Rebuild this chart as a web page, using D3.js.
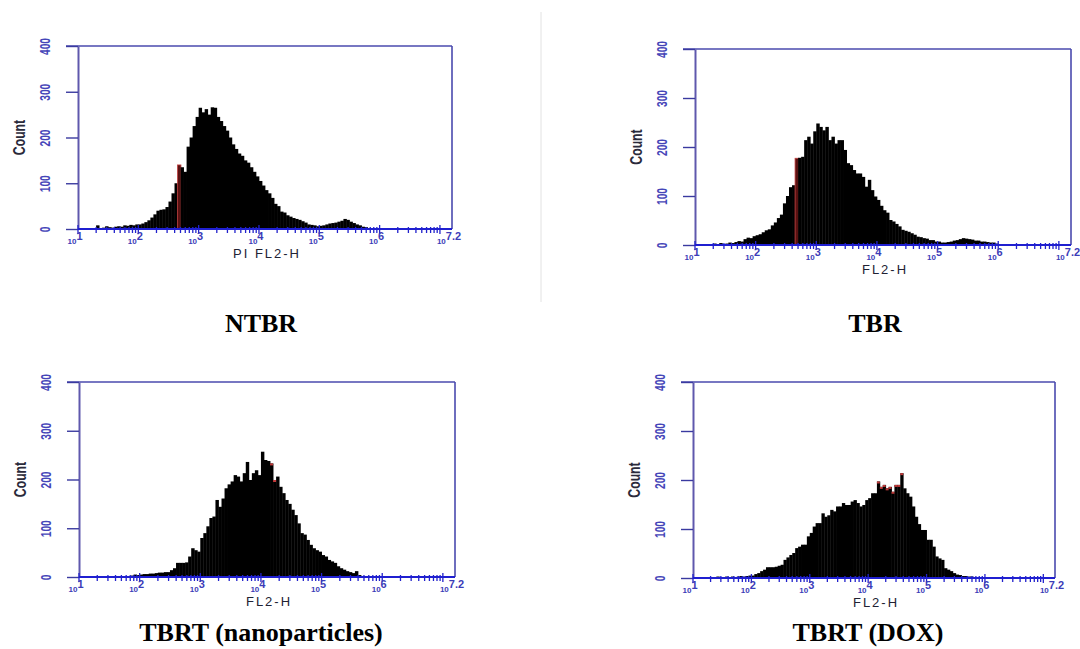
<!DOCTYPE html>
<html>
<head>
<meta charset="utf-8">
<script src="https://cdn.jsdelivr.net/npm/d3@7"></script>
<style>
body{margin:0;background:#fff}
svg{display:block}
</style>
</head>
<body>
<div id="chart"></div>
<script>
var binWidth = 0.05
var yTicks = [0, 100, 200, 300, 400]
var xTickExps = [1, 2, 3, 4, 5, 6, 7.2]
var xTickSups = ["1", "2", "3", "4", "5", "6", "7.2"]

var ntbrStart = 1.25
var ntbrCounts = [0,8,0,3,6,4,3,5,6,5,8,7,9,8,10,
    10,12,15,19,25,32,40,42,43,48,60,78,100,140,135,125,180,200,225,245,
    265,255,262,250,266,265,245,236,225,215,200,185,175,165,160,150,145,135,125,115,
    105,95,85,78,68,55,50,38,36,30,27,24,22,20,17,14,10,9,8,6,
    7,8,10,12,13,14,16,18,22,20,16,13,10,8,5,4,2,1]
var ntbrRed = [2.65]

var tbrStart = 1.3
var tbrCounts = [3,0,4,2,3,5,4,6,8,7,12,15,14,18,
    20,22,26,30,32,40,46,55,62,85,100,118,122,177,178,180,214,221,207,232,
    248,241,234,241,214,221,207,214,214,194,167,163,153,146,146,139,119,133,112,99,
    92,80,71,66,51,48,43,38,31,29,27,24,21,17,16,14,13,10,10,7,
    7,5,5,6,7,9,10,12,14,13,12,11,9,9,7,7,6,5,5,3,2]
var tbrRed = [2.65]

var nanoStart = 1.85
var nanoCounts = [3,5,4,
    5,6,6,7,7,8,9,9,10,10,14,18,29,29,29,30,42,59,55,52,
    80,90,104,121,124,158,144,161,182,190,196,209,206,196,213,236,199,213,219,209,
    257,240,238,233,199,206,185,172,158,150,138,127,110,90,87,76,66,59,55,52,
    45,42,35,32,29,22,18,15,12,10,8,12,4,2]
var nanoRed = [4.15, 4.2]

var doxStart = 1.3
var doxCounts = [2,0,3,0,2,3,0,3,2,3,4,3,4,5,
    5,8,10,14,17,22,22,22,23,25,27,37,42,47,51,61,64,68,68,85,
    92,105,112,112,132,125,128,139,136,146,146,153,149,149,156,159,153,146,149,159,
    163,173,173,197,186,190,183,186,176,190,190,214,183,173,166,146,125,110,98,98,
    78,78,64,44,40,37,20,17,14,10,7,6,4,4,3,3,2,2,1]
var doxRed = [4.15, 4.2, 4.25, 4.3, 4.35, 4.4, 4.45, 4.5, 4.55]

var panels = [
    {title: "NTBR", axisTitle: "PI FL2-H", start: ntbrStart, counts: ntbrCounts, red: ntbrRed, redFill: true,
     left: 78, right: 452, top: 46, bottom: 229, titleX: 261, titleY: 332},
    {title: "TBR", axisTitle: "FL2-H", start: tbrStart, counts: tbrCounts, red: tbrRed, redFill: true,
     left: 695, right: 1071, top: 49, bottom: 245, titleX: 875, titleY: 332},
    {title: "TBRT (nanoparticles)", axisTitle: "FL2-H", start: nanoStart, counts: nanoCounts, red: nanoRed, redFill: false,
     left: 79, right: 455, top: 382, bottom: 577, titleX: 261, titleY: 641},
    {title: "TBRT (DOX)", axisTitle: "FL2-H", start: doxStart, counts: doxCounts, red: doxRed, redFill: false,
     left: 693, right: 1055, top: 382, bottom: 578, titleX: 868, titleY: 641}
]

var width = 1080, height = 649
var svg = d3.select("#chart").append("svg").attr("width", width).attr("height", height)

// thin divider between the top two panels
svg.append("line")
    .attr("x1", 541).attr("x2", 541).attr("y1", 12).attr("y2", 302)
    .style("stroke", "#e2e2e2").style("stroke-width", 1)

for (var i in panels) {
    drawPanel(panels[i])
}

function drawPanel(p) {
    var g = svg.append("g")
    var x = d3.scaleLog().domain([10, Math.pow(10, 7.2)]).range([p.left, p.right])
    var y = d3.scaleLinear().domain([0, 400]).range([p.bottom, p.top])

    var bins = p.counts.map(function(c, i) {
        var e = +(p.start + i * binWidth).toFixed(2)
        return {e: e, c: c}
    })
    function isRed(e) {
        return p.red.some(function(r) { return Math.abs(r - e) < 0.001 })
    }

    // frame
    g.append("line").attr("x1", p.left - 12).attr("x2", p.right).attr("y1", p.top).attr("y2", p.top)
        .style("stroke", "#4a4aae").style("stroke-width", 1.6)
    g.append("line").attr("x1", p.right).attr("x2", p.right).attr("y1", p.top).attr("y2", p.bottom)
        .style("stroke", "#4a4aae").style("stroke-width", 1.6)

    // histogram
    g.selectAll(".bar")
        .data(bins)
        .enter()
        .append("rect")
        .attr("x", function(d) { return x(Math.pow(10, d.e)) })
        .attr("width", function(d) { return x(Math.pow(10, d.e + binWidth)) - x(Math.pow(10, d.e)) + 0.4 })
        .attr("y", function(d) { return y(d.c) })
        .attr("height", function(d) { return y(0) - y(d.c) })
        .style("fill", function(d) {
            if (p.redFill && isRed(d.e)) return "#5a1212"
            return "#000"
        })
        .style("stroke", function(d) {
            if (p.redFill && isRed(d.e)) return "#c04040"
            return "none"
        })
        .style("stroke-width", 0.8)

    if (!p.redFill) {
        var redBins = bins.filter(function(d) { return isRed(d.e) })
        g.selectAll(".redtop")
            .data(redBins)
            .enter()
            .append("line")
            .attr("x1", function(d) { return x(Math.pow(10, d.e)) })
            .attr("x2", function(d) { return x(Math.pow(10, d.e + binWidth)) })
            .attr("y1", function(d) { return y(d.c) + 1 })
            .attr("y2", function(d) { return y(d.c) + 1 })
            .style("stroke", "#c03a3a").style("stroke-width", 2)
    }

    // y axis
    var yAxis = g.append("g")
        .attr("transform", "translate(" + p.left + ",0)")
        .call(d3.axisLeft(y).tickValues(yTicks).tickSize(12).tickSizeOuter(0))
    yAxis.select(".domain").style("stroke", "#5f58ad").style("stroke-width", 2)
    yAxis.selectAll(".tick line").style("stroke", "#3a3aa0").style("stroke-width", 1.4)
    yAxis.selectAll(".tick text")
        .attr("x", null).attr("dy", null)
        .attr("transform", "translate(-28,0) rotate(-90) scale(0.68,1)")
        .attr("text-anchor", "middle")
        .style("font-family", "'Liberation Sans', Arial, sans-serif")
        .style("font-weight", "bold")
        .style("font-size", "15px")
        .style("fill", "#4545b8")

    // x axis, log ticks pointing down
    var ticks = x.ticks().filter(function(t) { return t >= 10 && t <= Math.pow(10, 7.2) })
    g.selectAll(".xtick")
        .data(ticks)
        .enter()
        .append("line")
        .attr("x1", function(d) { return x(d) })
        .attr("x2", function(d) { return x(d) })
        .attr("y1", function(d) { return Number.isInteger(Math.log10(d)) ? p.bottom - 4 : p.bottom - 2 })
        .attr("y2", function(d) { return Number.isInteger(Math.log10(d)) ? p.bottom + 5 : p.bottom + 4 })
        .style("stroke", "#2222cc")
        .style("stroke-width", 1.3)
    g.append("line").attr("x1", p.left).attr("x2", p.right).attr("y1", p.bottom).attr("y2", p.bottom)
        .style("stroke", "#1f1fd0").style("stroke-width", 2)

    var labels = g.selectAll(".xlab")
        .data(xTickExps)
        .enter()
        .append("text")
        .attr("x", function(d) { return x(Math.pow(10, d)) - 3 })
        .attr("y", p.bottom + 15)
        .attr("text-anchor", "middle")
        .style("font-family", "'Liberation Sans', Arial, sans-serif")
        .style("font-weight", "bold")
        .style("fill", "#3c3cb8")
    labels.append("tspan").style("font-size", "8px").text("10")
    labels.append("tspan").attr("dy", -4).style("font-size", "11px")
        .text(function(d, i) { return xTickSups[i] })

    // axis titles
    g.append("text")
        .attr("x", (p.left + p.right) / 2 + 2)
        .attr("y", p.bottom + 29)
        .attr("text-anchor", "middle")
        .style("font-family", "'Liberation Sans', Arial, sans-serif")
        .style("font-size", "13px")
        .style("letter-spacing", "2px")
        .style("fill", "#222233")
        .text(p.axisTitle)
    g.append("text")
        .attr("transform", "translate(" + (p.left - 53) + "," + ((p.top + p.bottom) / 2) + ") rotate(-90) scale(0.72,1)")
        .attr("text-anchor", "middle")
        .style("font-family", "'Liberation Sans', Arial, sans-serif")
        .style("font-weight", "bold")
        .style("font-size", "17px")
        .style("fill", "#2a2a3a")
        .text("Count")

    // panel label
    svg.append("text")
        .attr("x", p.titleX)
        .attr("y", p.titleY)
        .attr("text-anchor", "middle")
        .style("font-family", "'Liberation Serif', 'Times New Roman', serif")
        .style("font-weight", "bold")
        .style("font-size", "26px")
        .style("fill", "#000")
        .text(p.title)
}
</script>
</body>
</html>
